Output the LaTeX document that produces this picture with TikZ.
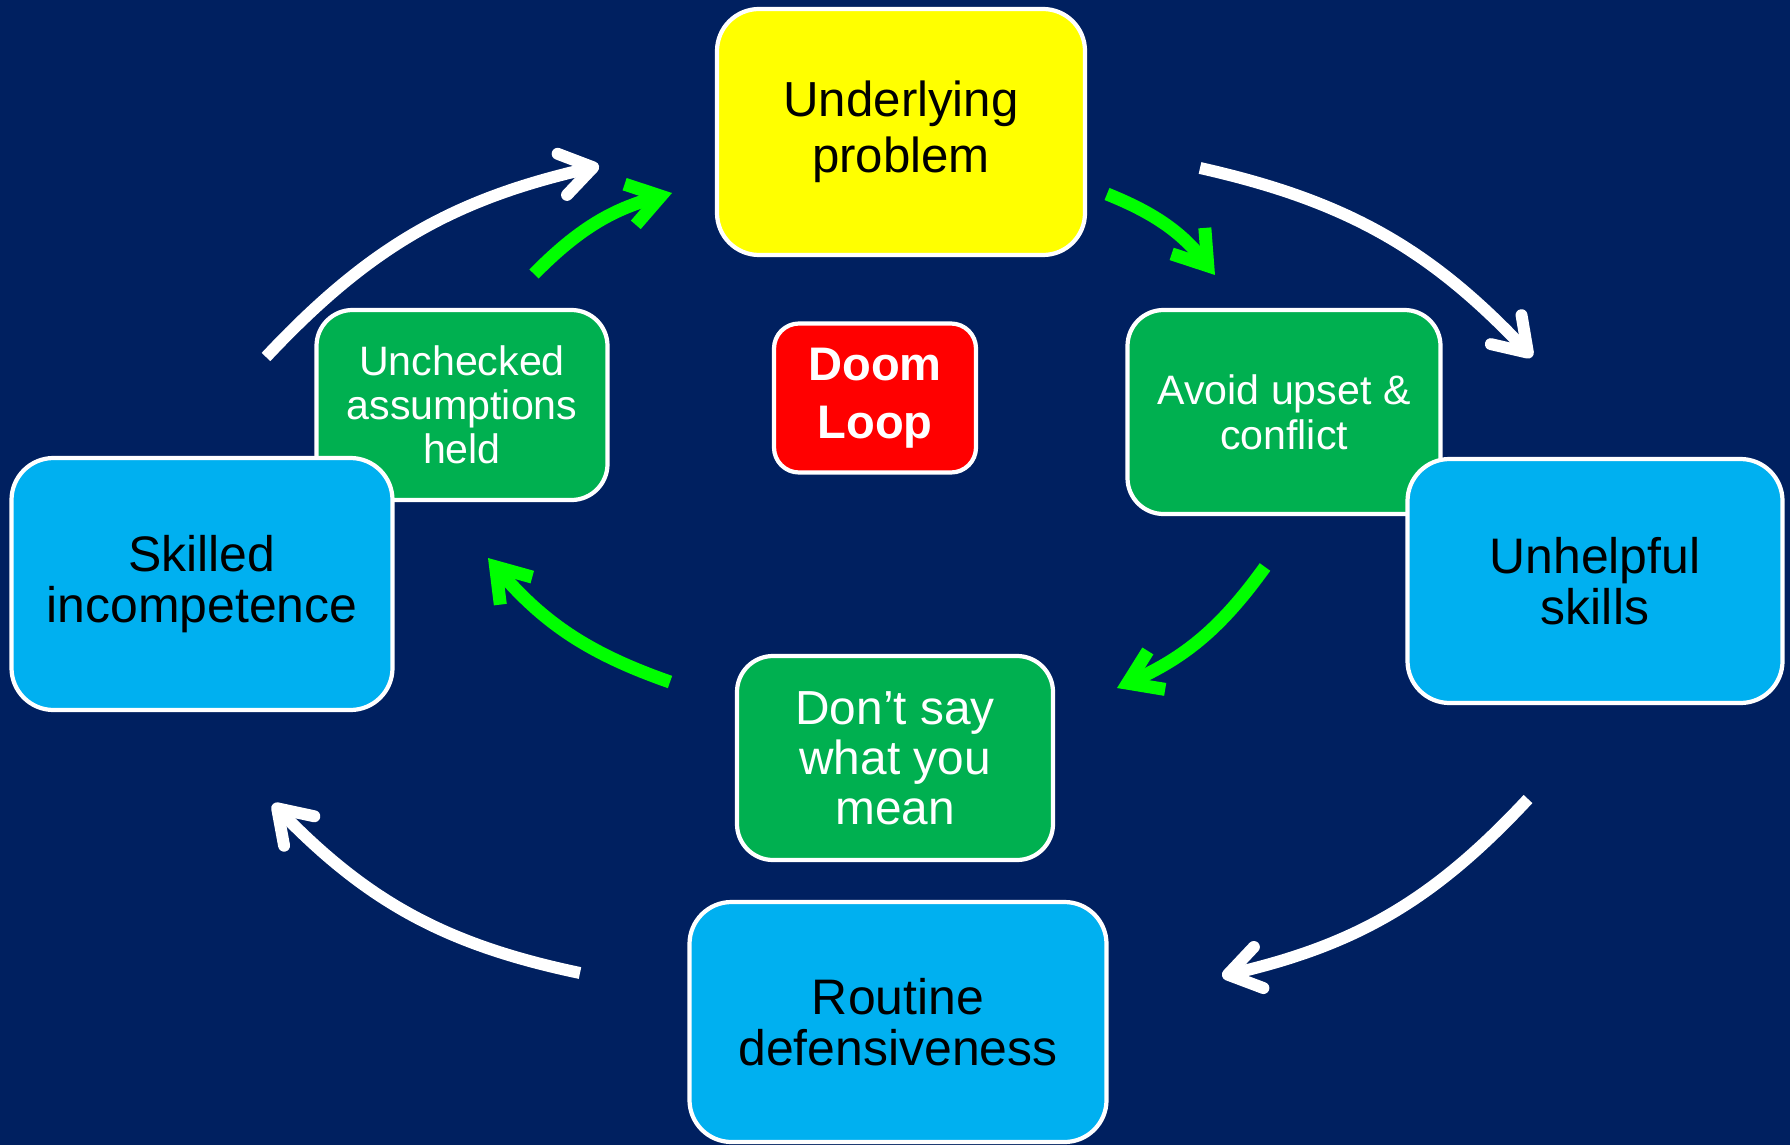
\documentclass[tikz,border=0pt]{standalone}
\usepackage{fontspec}
\setmainfont{Liberation Sans}
\usepackage{xcolor}
\usepackage{tikz}
\usetikzlibrary{arrows.meta}

\definecolor{slidenavy}{RGB}{0,32,96}
\definecolor{skillblue}{RGB}{0,176,240}
\definecolor{stepgreen}{RGB}{0,176,80}
\definecolor{loopgreen}{RGB}{0,255,0}
\definecolor{problemyellow}{RGB}{255,255,0}
\definecolor{doomred}{RGB}{255,0,0}

\tikzset{
  loopbox/.style={draw=white, line width=1.2pt, rounded corners=0.42cm, align=center, inner sep=0pt},
  bluebox/.style={loopbox, fill=skillblue, font=\fontsize{14.2}{14.6}\selectfont},
  greenbox/.style={loopbox, fill=stepgreen, text=white, rounded corners=0.36cm},
  whitearrow/.style={white, line width=3.4pt, -{Straight Barb[length=9pt,width=12pt,round]}},
  greenarrow/.style={loopgreen, line width=3.7pt, -{Straight Barb[length=9pt,width=12pt]}}
}

\begin{document}
\begin{tikzpicture}
\fill[slidenavy] (0,0) rectangle (17.9,11.45);
\useasboundingbox (0,0) rectangle (17.9,11.45);

% boxes
\node[loopbox, fill=problemyellow, minimum width=3.68cm, minimum height=2.46cm,
  font=\fontsize{14}{15.8}\selectfont] (problem) at (9.01,10.13) {Underlying\\problem};
\node[greenbox, minimum width=2.91cm, minimum height=1.90cm,
  font=\fontsize{11.7}{12.6}\selectfont] (assume) at (4.62,7.40) {Unchecked\\assumptions\\held};
\node[bluebox, minimum width=3.81cm, minimum height=2.52cm] (skilled) at (2.02,5.61) {Skilled\\incompetence};
\node[loopbox, fill=doomred, text=white, rounded corners=0.25cm, minimum width=2.02cm, minimum height=1.49cm,
  font=\bfseries\fontsize{13.4}{16.4}\selectfont] (doom) at (8.75,7.47) {Doom\\Loop};
\node[greenbox, minimum width=3.13cm, minimum height=2.04cm,
  font=\fontsize{11.7}{12.8}\selectfont] (avoid) at (12.84,7.33) {Avoid upset \&\\conflict};
\node[bluebox, minimum width=3.75cm, minimum height=2.44cm] (unhelpful) at (15.95,5.64) {Unhelpful\\skills};
\node[greenbox, minimum width=3.16cm, minimum height=2.04cm,
  font=\fontsize{13.6}{14.2}\selectfont] (dontsay) at (8.95,3.87) {Don’t say\\what you\\mean};
\node[bluebox, minimum width=4.17cm, minimum height=2.40cm] (routine) at (8.98,1.23) {Routine\\defensiveness};

% outer loop
\coordinate (w1a) at (2.66,7.88);
\coordinate (w1b) at (5.99,9.79);
\coordinate (w2a) at (12.00,9.77);
\coordinate (w2b) at (15.32,7.88);
\coordinate (w3a) at (15.28,3.46);
\coordinate (w3b) at (12.22,1.69);
\coordinate (w4a) at (5.80,1.72);
\coordinate (w4b) at (2.73,3.41);
\draw[whitearrow] (w1a) to[bend left=17] (w1b);
\draw[whitearrow] (w2a) to[bend left=17] (w2b);
\draw[whitearrow] (w3a) to[bend left=17] (w3b);
\draw[whitearrow] (w4a) to[bend left=17] (w4b);

% inner loop
\coordinate (g1a) at (5.34,8.71);
\coordinate (g1b) at (6.72,9.52);
\coordinate (g2a) at (11.07,9.51);
\coordinate (g2b) at (12.15,8.70);
\coordinate (g3a) at (12.65,5.78);
\coordinate (g3b) at (11.17,4.57);
\coordinate (g4a) at (6.70,4.63);
\coordinate (g4b) at (4.88,5.87);
\draw[greenarrow] (g1a) to[bend left=15] (g1b);
\draw[greenarrow] (g2a) to[bend left=15] (g2b);
\draw[greenarrow] (g3a) to[bend left=15] (g3b);
\draw[greenarrow] (g4a) to[bend left=15] (g4b);
\end{tikzpicture}
\end{document}
